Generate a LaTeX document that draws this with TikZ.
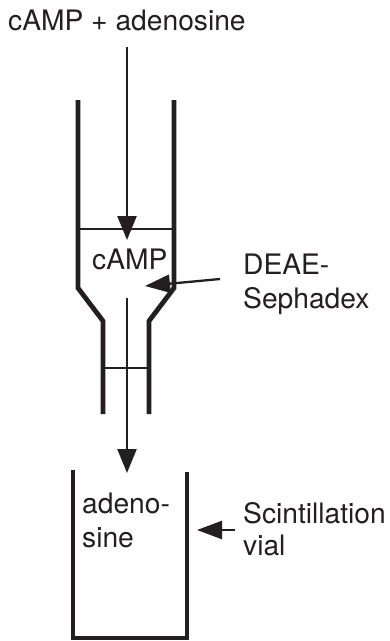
\documentclass[tikz,border=0pt]{standalone}
\usepackage{fontspec}
\setmainfont{TeX Gyre Heros}
\usetikzlibrary{arrows.meta}
\definecolor{ink}{RGB}{35,31,32}
\tikzset{
  wall/.style={draw=ink,line width=4.8pt,line join=miter},
  thin line/.style={draw=ink,line width=2.3pt},
  flow/.style={draw=ink,line width=2.3pt,-{Triangle[length=24pt,width=19pt,color=ink]}},
  pointer/.style={draw=ink,line width=2.3pt,-{Triangle[length=25pt,width=18pt,color=ink]}},
  lbl/.style={text=ink,font=\fontsize{28.2}{32}\selectfont,inner sep=0pt,anchor=base west,align=left},
}
\begin{document}
\begin{tikzpicture}[x=1pt,y=-1pt]
\useasboundingbox (0,0) rectangle (390,641);
% labels
\node[lbl] (top) at (8,30) {cAMP + adenosine};
\node[lbl] (camp) at (92,269) {cAMP};
\node[lbl] (deae) at (243,274) {DEAE-};
\node[lbl] (seph) at (243,308) {Sephadex};
\node[lbl] (aden) at (82,513) {adeno-};
\node[lbl] (sine) at (82,547) {sine};
\node[lbl] (scin) at (243,523) {Scintillation};
\node[lbl] (vial) at (243,555) {vial};
% column
\coordinate (lt) at (78,100);
\coordinate (ls) at (78,288);
\coordinate (ln) at (103,321);
\coordinate (lb) at (103,414);
\coordinate (rt) at (174,100);
\coordinate (rs) at (174,288);
\coordinate (rn) at (149,321);
\coordinate (rb) at (149,414);
\draw[wall] (lt) -- (ls) -- (ln) -- (lb);
\draw[wall] (rt) -- (rs) -- (rn) -- (rb);
\coordinate (m1) at (78,229);
\coordinate (m2) at (174,229);
\coordinate (f1) at (103,368);
\coordinate (f2) at (149,368);
\draw[thin line] (m1) -- (m2);
\draw[thin line] (f1) -- (f2);
% vial
\coordinate (vl) at (73,470);
\coordinate (vbl) at (73,638);
\coordinate (vbr) at (187,638);
\coordinate (vr) at (187,472);
\draw[draw=ink,line width=4.4pt,line join=miter] (vl) -- (vbl) -- (vbr) -- (vr);
% arrows
\coordinate (a1) at (127,47);
\coordinate (a2) at (127,240);
\coordinate (b1) at (127,298);
\coordinate (b2) at (127,473);
\draw[flow] (a1) -- (a2);
\draw[flow] (b1) -- (b2);
\coordinate (c1) at (220,279);
\coordinate (c2) at (145,286);
\coordinate (d1) at (235,530);
\coordinate (d2) at (197,530);
\draw[pointer] (c1) -- (c2);
\draw[pointer] (d1) -- (d2);
\end{tikzpicture}
\end{document}
